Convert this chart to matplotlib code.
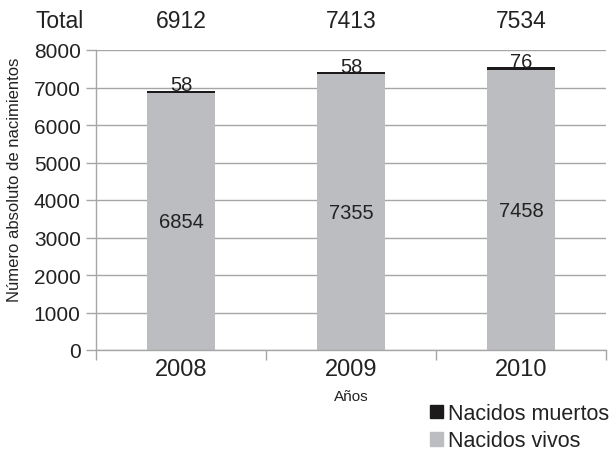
import matplotlib.pyplot as plt
from matplotlib.patches import Patch
from matplotlib.transforms import blended_transform_factory

plt.rcParams['font.family'] = ['Liberation Sans', 'DejaVu Sans']

years = ["2008", "2009", "2010"]
vivos = [6854, 7355, 7458]
muertos = [58, 58, 76]
totales = [6912, 7413, 7534]

gray = "#bcbdc1"
black = "#1c1a1a"
axis_col = "#a6a6a6"
text_col = "#222222"

fig = plt.figure(figsize=(6.12, 4.56), dpi=100)
ax = fig.add_axes([96 / 612, 105 / 456, 510 / 612, 300 / 456])

x = list(range(len(years)))
ax.bar(x, vivos, width=0.4, color=gray, zorder=2)
ax.bar(x, muertos, width=0.4, bottom=vivos, color=black, zorder=2)

for i in x:
    ax.text(i, vivos[i] / 2, str(vivos[i]), ha="center", va="center",
            fontsize=14.5, color=text_col)
    ax.text(i, vivos[i] + muertos[i] + 10, str(muertos[i]), ha="center",
            va="baseline", fontsize=14.5, color=text_col)

# fila de totales arriba del grafico
trans = blended_transform_factory(ax.transData, fig.transFigure)
fig.text(60 / 612, 1 - 21 / 456, "Total", ha="center", va="center",
         fontsize=16.5, color=text_col)
for i in x:
    ax.text(i, 1 - 21 / 456, str(totales[i]), ha="center", va="center",
            fontsize=16.5, color=text_col, transform=trans)

ax.set_xlim(-0.5, 2.5)
ax.set_ylim(0, 8000)
ax.set_yticks(range(0, 8001, 1000))
ax.yaxis.grid(True, color=axis_col, linewidth=1, zorder=0)
ax.set_axisbelow(True)

ax.set_xticks(x)
ax.set_xticklabels(years, fontsize=17, color=text_col)
ax.set_xticks([-0.5, 0.5, 1.5, 2.5], minor=True)
ax.tick_params(axis="x", which="major", length=0, pad=6)
ax.tick_params(axis="x", which="minor", length=7, color=axis_col, width=1)
ax.tick_params(axis="y", length=7, color=axis_col, width=1, labelsize=15,
               labelcolor=text_col, pad=4)

for s in ["top", "right"]:
    ax.spines[s].set_visible(False)
for s in ["left", "bottom"]:
    ax.spines[s].set_color(axis_col)
    ax.spines[s].set_linewidth(1)

ax.set_xlabel("Años", fontsize=11, color=text_col, labelpad=6)
ax.set_ylabel("Número absoluto de nacimientos", fontsize=12, color=text_col)
ax.yaxis.set_label_coords((22 - 96) / 510, (351 - 180) / 300)

handles = [Patch(color=black, label="Nacidos muertos"),
           Patch(color=gray, label="Nacidos vivos")]
fig.legend(handles=handles, loc="upper left", bbox_to_anchor=(430 / 612, 1 - 404 / 456),
           frameon=False, fontsize=15.5, handlelength=0.6, handleheight=0.6,
           handletextpad=0.25, labelspacing=0.3, borderaxespad=0, borderpad=0,
           labelcolor=text_col)

fig.savefig("out.png", dpi=100)
